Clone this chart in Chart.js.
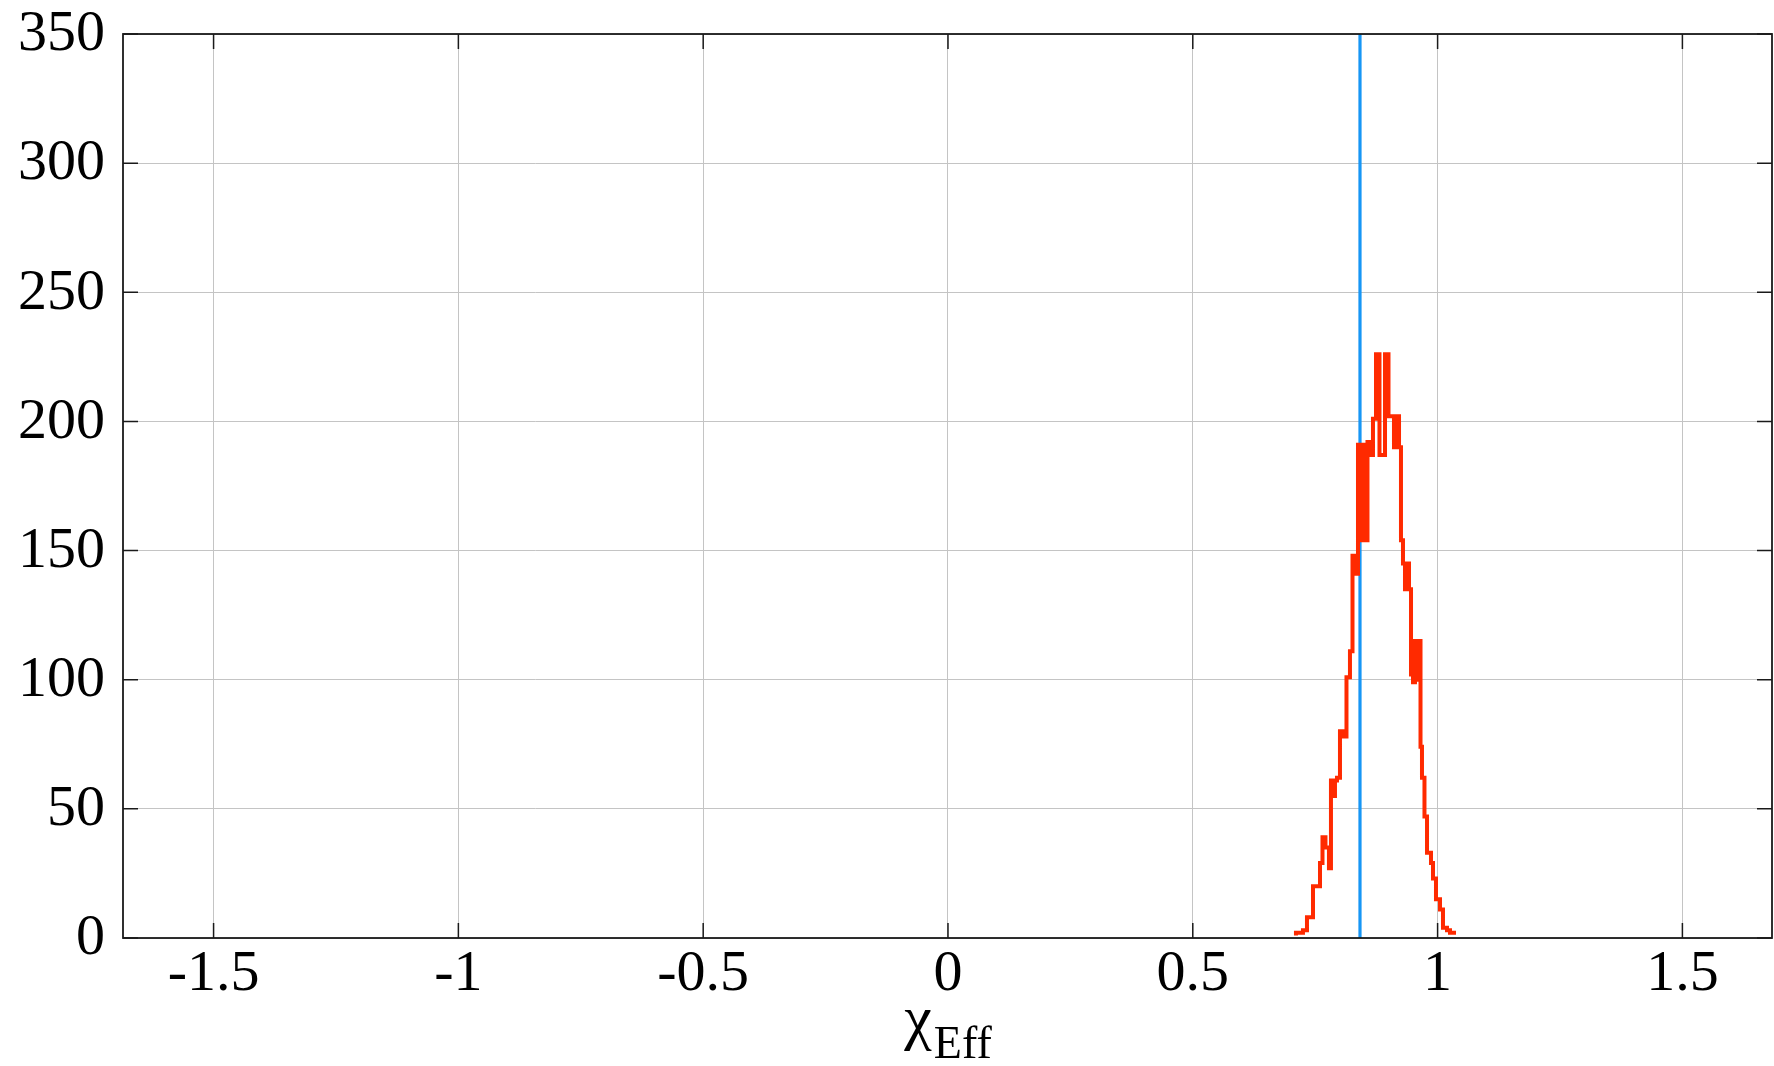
<!DOCTYPE html>
<html>
<head>
<meta charset="utf-8">
<title>chi_eff histogram</title>
<script src="https://cdn.jsdelivr.net/npm/chart.js@4.4.1/dist/chart.umd.min.js"></script>
<style>
  html, body { margin: 0; padding: 0; background: #fff; }
  canvas { display: block; }
</style>
</head>
<body>
<canvas id="histChart" width="1774" height="1066"></canvas>
<script>
// left edges of the histogram bins (chi_eff) and the count in each bin
const binEdges = [
  0.7107, 0.7250, 0.7332, 0.7455, 0.7598, 0.7649, 0.7710, 0.7781, 0.7822, 0.7863,
  0.7904, 0.7945, 0.8006, 0.8067, 0.8139, 0.8210, 0.8262, 0.8313, 0.8374, 0.8435,
  0.8476, 0.8517, 0.8568, 0.8619, 0.8680, 0.8742, 0.8813, 0.8926, 0.8997, 0.9109,
  0.9171, 0.9212, 0.9252, 0.9293, 0.9334, 0.9375, 0.9416, 0.9457, 0.9498, 0.9538,
  0.9579, 0.9620, 0.9651, 0.9681, 0.9732, 0.9784, 0.9865, 0.9906, 0.9967, 1.0049,
  1.0110, 1.0192, 1.0253, 1.0315
];
const lastEdge = 1.0376;
const counts = [
  1, 2, 3, 8, 20, 29, 39, 35, 27, 61,
  55, 61, 62, 80, 78, 101, 111, 148, 141, 191,
  154, 191, 154, 192, 187, 201, 226, 187, 226, 202,
  190, 202, 190, 154, 145, 135, 145, 135, 102, 99,
  115, 100, 115, 74, 62, 47, 33, 29, 23, 15,
  11, 4, 3, 2
];

// vertical marker
const markerX = 0.8415;

const xTicks = [-1.5, -1, -0.5, 0, 0.5, 1, 1.5];
const yTicks = [0, 50, 100, 150, 200, 250, 300, 350];

const serif = '"Liberation Serif", "DejaVu Serif", serif';

// build the stepped outline from the bins
const histPoints = binEdges.map((e, i) => ({ x: e, y: counts[i] }));
histPoints.push({ x: lastEdge, y: counts[counts.length - 1] });

// box around the plot plus inward ticks on all four sides
const framePlugin = {
  id: 'frame',
  afterDatasetsDraw(chart) {
    const { ctx, chartArea: a, scales: { x, y } } = chart;
    ctx.save();
    ctx.strokeStyle = '#1a1a1a';
    ctx.lineWidth = 1.5;
    ctx.beginPath();
    xTicks.forEach(v => {
      const px = x.getPixelForValue(v);
      ctx.moveTo(px, a.bottom); ctx.lineTo(px, a.bottom - 15);
      ctx.moveTo(px, a.top); ctx.lineTo(px, a.top + 15);
    });
    yTicks.forEach(v => {
      const py = y.getPixelForValue(v);
      ctx.moveTo(a.left, py); ctx.lineTo(a.left + 15, py);
      ctx.moveTo(a.right, py); ctx.lineTo(a.right - 15, py);
    });
    ctx.stroke();
    ctx.lineWidth = 1.8;
    ctx.strokeRect(a.left, a.top, a.right - a.left, a.bottom - a.top);
    ctx.restore();
  }
};

// x axis title with a subscript
const titlePlugin = {
  id: 'xTitle',
  afterDraw(chart) {
    const { ctx, scales: { x } } = chart;
    const cx = x.getPixelForValue(0);
    ctx.save();
    ctx.fillStyle = '#000';
    ctx.textBaseline = 'alphabetic';
    ctx.font = '62px ' + serif;
    const w1 = ctx.measureText('χ').width;
    ctx.font = '46px ' + serif;
    const w2 = ctx.measureText('Eff').width;
    const start = cx - (w1 + w2 + 2) / 2;
    ctx.font = '62px ' + serif;
    ctx.fillText('χ', start, 1038);
    ctx.font = '46px ' + serif;
    ctx.fillText('Eff', start + w1 + 2, 1058);
    ctx.restore();
  }
};

new Chart(document.getElementById('histChart'), {
  type: 'scatter',
  data: {
    datasets: [
      {
        data: histPoints,
        showLine: true,
        stepped: 'after',
        borderColor: '#ff2a00',
        borderWidth: 4,
        pointRadius: 0,
        fill: false
      },
      {
        data: [{ x: markerX, y: 0 }, { x: markerX, y: 350 }],
        showLine: true,
        borderColor: '#1796f5',
        borderWidth: 3.2,
        pointRadius: 0,
        fill: false
      }
    ]
  },
  options: {
    responsive: false,
    animation: false,
    devicePixelRatio: 1,
    layout: { padding: { top: 34, right: 2, left: 0, bottom: 0 } },
    plugins: { legend: { display: false }, tooltip: { enabled: false } },
    scales: {
      x: {
        type: 'linear',
        min: -1.685,
        max: 1.683,
        afterFit: s => { s.height = 128; s.paddingLeft = 0; s.paddingRight = 0; },
        afterBuildTicks: s => { s.ticks = xTicks.map(v => ({ value: v })); },
        grid: { color: '#c4c4c4', lineWidth: 1, drawTicks: false },
        border: { display: false },
        ticks: {
          color: '#000',
          font: { family: serif, size: 58 },
          padding: 2,
          maxRotation: 0,
          callback: v => String(v)
        }
      },
      y: {
        type: 'linear',
        min: 0,
        max: 350,
        afterFit: s => { s.width = 123; s.paddingTop = 0; s.paddingBottom = 0; },
        afterBuildTicks: s => { s.ticks = yTicks.map(v => ({ value: v })); },
        grid: { color: '#c4c4c4', lineWidth: 1, drawTicks: false },
        border: { display: false },
        ticks: {
          color: '#000',
          font: { family: serif, size: 58 },
          padding: 18,
          labelOffset: 1,
          callback: v => String(v)
        }
      }
    }
  },
  plugins: [framePlugin, titlePlugin]
});
</script>
</body>
</html>
